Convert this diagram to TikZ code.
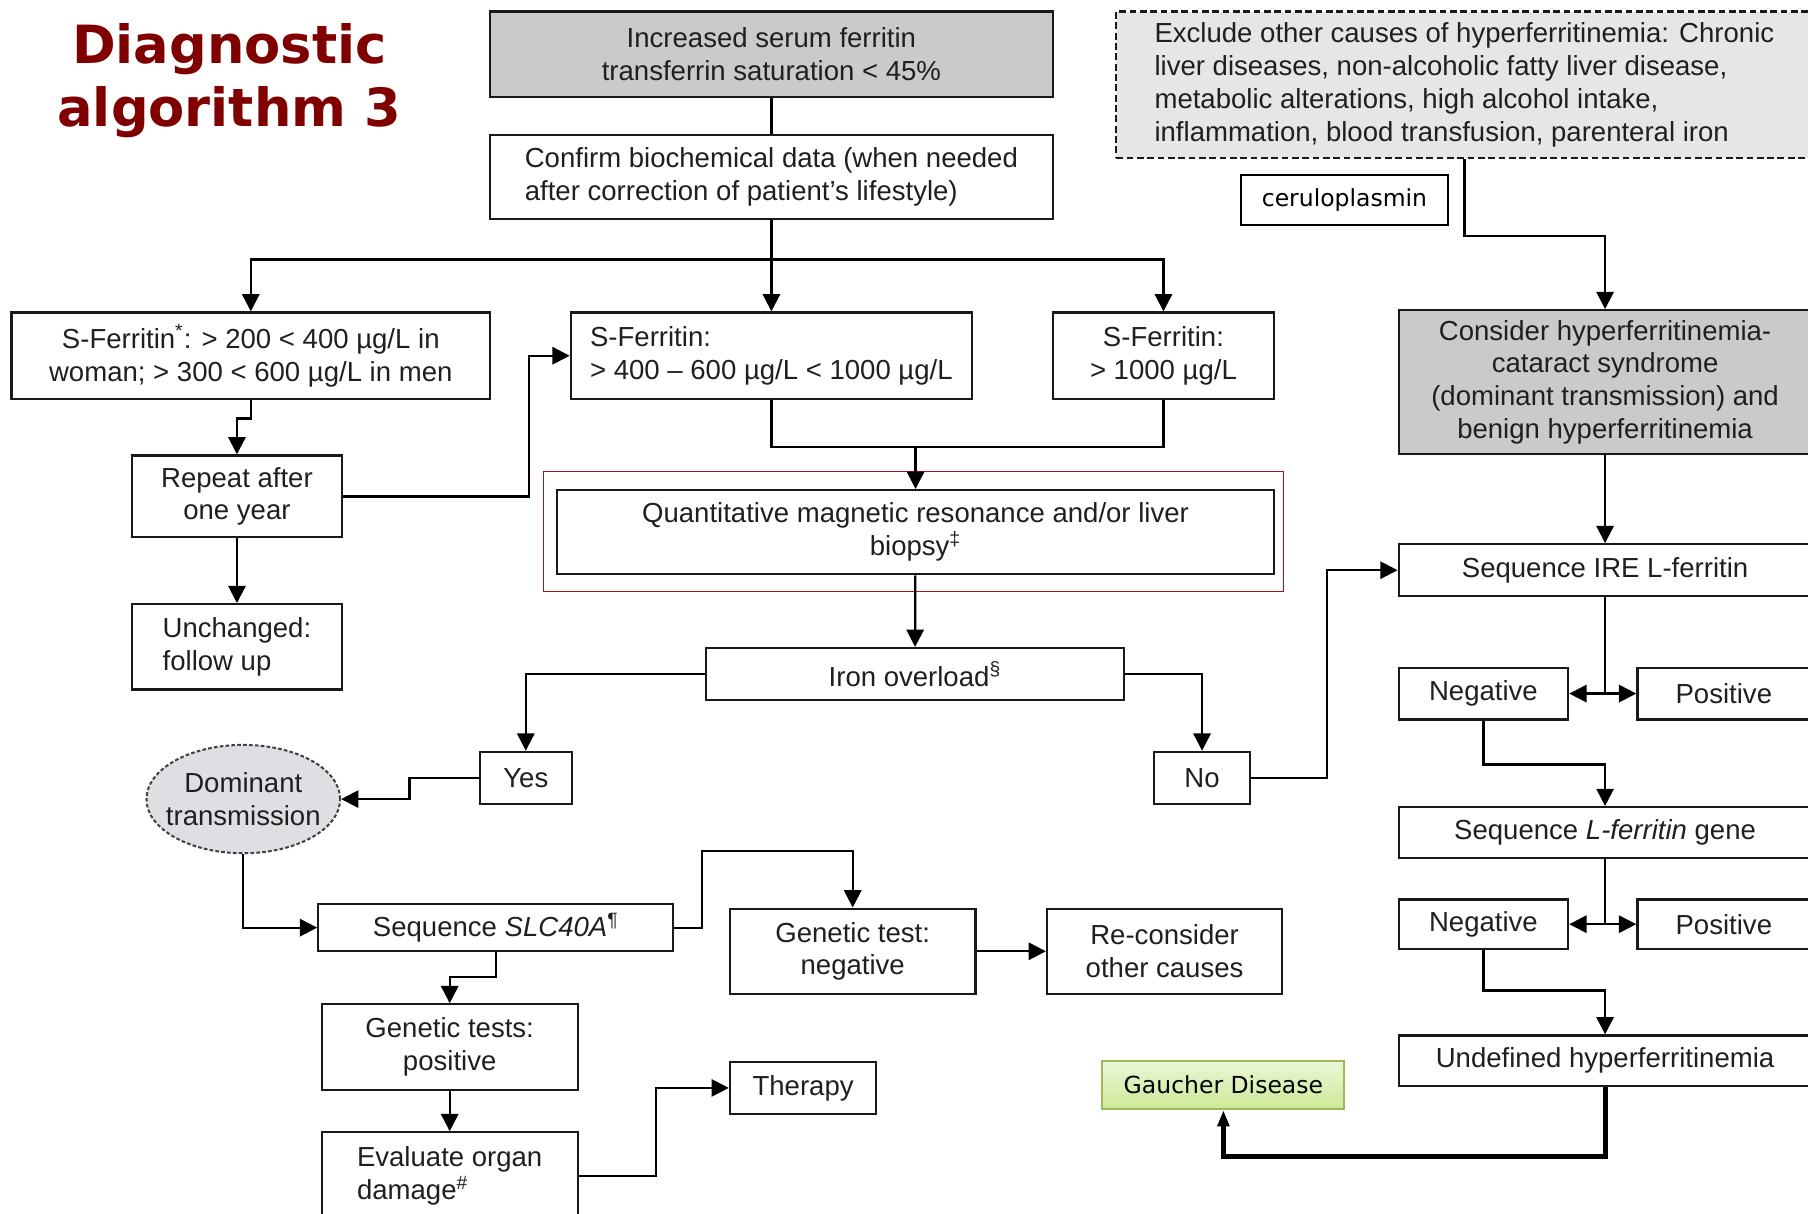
\documentclass[tikz,border=0pt]{standalone}
\usepackage{fontspec}
\setmainfont{Liberation Sans}
\newfontfamily\verdana{DejaVu Sans}
\usetikzlibrary{arrows.meta,shapes.geometric}
\definecolor{titlered}{RGB}{128,0,0}
\definecolor{boxgray}{RGB}{202,202,202}
\definecolor{lightgray}{RGB}{230,230,230}
\definecolor{ovalgray}{RGB}{221,223,226}
\definecolor{framered}{RGB}{165,20,20}
\definecolor{gborder}{RGB}{155,187,89}
\definecolor{gtop}{RGB}{236,247,215}
\definecolor{gbottom}{RGB}{204,232,150}

\begin{document}
\begin{tikzpicture}[x=0.02cm,y=-0.02cm,
  flow/.style={draw=black!90, line width=1.1pt, inner sep=0pt, align=center,
    text=black!88, font=\fontsize{13.6}{16.2}\selectfont},
  grayflow/.style={flow, fill=boxgray},
  arr/.style={line width=1.1pt, -{Triangle[length=0.3cm,width=0.3cm]}},
  link/.style={line width=1.1pt},
  vbox/.style={draw, inner sep=0pt, font=\verdana\fontsize{11.6}{14}\selectfont}]
\useasboundingbox (0,0) rectangle (1568,1052);

\node[text=titlered, align=center, font=\verdana\bfseries\fontsize{26}{30.7}\selectfont] (title) at (199,70) {Diagnostic\\algorithm 3};

\node[grayflow, minimum width=9.76cm, minimum height=1.48cm] (top) at (669,47) {Increased serum ferritin\\transferrin saturation < 45\%};
\node[flow, align=left, minimum width=9.76cm, minimum height=1.46cm] (confirm) at (669,153.5) {Confirm biochemical data (when needed\\after correction of patient's lifestyle)};

\node[flow, minimum width=8.3cm, minimum height=1.5cm] (sfl) at (217.5,308.5) {S-Ferritin\textsuperscript{*}: > 200 < 400 µg/L in\\woman; > 300 < 600 µg/L in men};
\node[flow, align=left, minimum width=6.96cm, minimum height=1.5cm] (sfm) at (669,308.5) {S-Ferritin:\\> 400 -- 600 µg/L < 1000 µg/L};
\node[flow, minimum width=3.84cm, minimum height=1.5cm] (sfr) at (1009,308.5) {S-Ferritin:\\> 1000 µg/L};

\node[flow, minimum width=3.64cm, minimum height=1.42cm] (repeat) at (205.5,430.5) {Repeat after\\one year};
\node[flow, align=left, minimum width=3.64cm, minimum height=1.48cm] (unchanged) at (205.5,561) {Unchanged:\\follow up};

\node[draw=framered, line width=0.6pt, minimum width=12.84cm, minimum height=2.08cm] (qframe) at (792,461) {};
\node[flow, minimum width=12.44cm, minimum height=1.46cm] (quant) at (794,461.5) {Quantitative magnetic resonance and/or liver\\biopsy\textsuperscript{‡}};
\node[flow, minimum width=7.26cm, minimum height=0.9cm] (iron) at (793.5,584.5) {Iron overload\textsuperscript{§}};
\node[flow, minimum width=1.6cm, minimum height=0.9cm] (yes) at (456,674.5) {Yes};
\node[flow, minimum width=1.66cm, minimum height=0.9cm] (no) at (1042.5,674.5) {No};

\node[flow, ellipse, draw=black!75, line width=1pt, dash pattern=on 1.8pt off 1.1pt, fill=ovalgray, inner xsep=-0.17cm, minimum width=3.36cm, minimum height=1.88cm] (dom) at (211,693) {Dominant\\transmission};
\node[flow, minimum width=6.16cm, minimum height=0.82cm] (slc) at (430,804.5) {Sequence \textit{SLC40A}\textsuperscript{¶}};
\node[flow, minimum width=4.26cm, minimum height=1.48cm] (genneg) at (739.5,825) {Genetic test:\\negative};
\node[flow, minimum width=4.08cm, minimum height=1.48cm] (recon) at (1010,825) {Re-consider\\other causes};
\node[flow, minimum width=4.44cm, minimum height=1.48cm] (genpos) at (390,908) {Genetic tests:\\positive};
\node[flow, align=left, minimum width=4.44cm, minimum height=1.52cm] (evaluate) at (390,1020) {Evaluate organ\\damage\textsuperscript{\#}};
\node[flow, minimum width=2.54cm, minimum height=0.9cm] (therapy) at (696.5,943.5) {Therapy};

\node[flow, align=left, fill=lightgray, dash pattern=on 3.4pt off 1.7pt, minimum width=12.08cm, minimum height=2.54cm] (exclude) at (1270,73.5) {Exclude other causes of hyperferritinemia: Chronic\\liver diseases, non-alcoholic fatty liver disease,\\metabolic alterations, high alcohol intake,\\inflammation, blood transfusion, parenteral iron};
\node[vbox, line width=0.8pt, minimum width=3.6cm, minimum height=0.86cm] (cerulo) at (1166,173.5) {ceruloplasmin};
\node[grayflow, minimum width=7.16cm, minimum height=2.5cm] (consider) at (1392,331.5) {Consider hyperferritinemia-\\cataract syndrome\\(dominant transmission) and\\benign hyperferritinemia};
\node[flow, minimum width=7.16cm, minimum height=0.9cm] (irel) at (1392,494.5) {Sequence IRE L-ferritin};
\node[flow, minimum width=2.94cm, minimum height=0.9cm] (neg1) at (1286.5,601.5) {Negative};
\node[flow, minimum width=3cm, minimum height=0.9cm] (pos1) at (1495,601.5) {Positive};
\node[flow, minimum width=7.16cm, minimum height=0.88cm] (lfer) at (1392,722) {Sequence \textit{L-ferritin} gene};
\node[flow, minimum width=2.94cm, minimum height=0.86cm] (neg2) at (1286.5,801.5) {Negative};
\node[flow, minimum width=3cm, minimum height=0.86cm] (pos2) at (1495,801.5) {Positive};
\node[flow, minimum width=7.16cm, minimum height=0.88cm] (undef) at (1392,920) {Undefined hyperferritinemia};
\node[vbox, draw=gborder, line width=1pt, top color=gtop, bottom color=gbottom, minimum width=4.2cm, minimum height=0.84cm] (gaucher) at (1061,941) {Gaucher Disease};

\draw[link] (top) -- (confirm);
\draw[arr] (confirm.south) -- ++(0,34) -| (sfl.north);
\draw[arr] (confirm.south) -- ++(0,34) -| (sfr.north);
\draw[arr] (confirm.south) -- (sfm.north);
\draw[arr] (sfl.south) -- ++(0,16) -| (repeat.north);
\draw[arr] (repeat) -- (unchanged);
\draw[arr] (repeat.east) -- ++(161,0) |- (sfm.west);
\path (sfm.south) ++(0,41) coordinate (join);
\draw[link] (sfm.south) -- (join) -| (sfr.south);
\draw[arr] (join -| quant.north) -- (quant.north);
\draw[arr] (quant) -- (iron);
\draw[arr] (iron.west) -| (yes.north);
\draw[arr] (iron.east) -| (no.north);
\draw[arr] (yes.west) -- ++(-60,0) |- (dom.east);
\draw[arr] (no.east) -- ++(66,0) |- (irel.west);
\draw[arr] (dom.south) |- (slc.west);
\draw[arr] (slc.east) -- ++(24,0) -- ++(0,-66.5) -| (genneg.north);
\draw[arr] (genneg) -- (recon);
\draw[arr] (slc.south) -- ++(0,21) -| (genpos.north);
\draw[arr] (genpos) -- (evaluate);
\draw[arr] (evaluate.east) -- ++(67,0) |- (therapy.west);

\draw[arr] (exclude.south) -- ++(0,67) -| (consider.north);
\draw[arr] (consider) -- (irel);
\draw[arr] (irel.south) |- (neg1.east);
\draw[arr] (irel.south) |- (pos1.west);
\draw[arr] (neg1.south) -- ++(0,38) -| (lfer.north);
\draw[arr] (lfer.south) |- (neg2.east);
\draw[arr] (lfer.south) |- (pos2.west);
\draw[arr] (neg2.south) -- ++(0,35) -| (undef.north);
\draw[line width=2.4pt, -{Triangle[length=0.28cm,width=0.2cm]}] (undef.south) -- ++(0,60) -| (gaucher.south);
\end{tikzpicture}
\end{document}
